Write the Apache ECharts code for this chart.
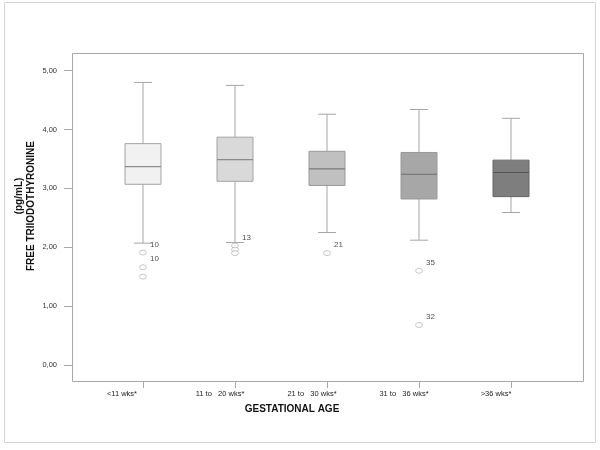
<!DOCTYPE html>
<html>
<head>
<meta charset="utf-8">
<script src="https://cdn.jsdelivr.net/npm/echarts@6/dist/echarts.min.js"></script>
<style>
  html, body { margin: 0; padding: 0; background: #fff; }
  #chart { width: 600px; height: 450px; }
</style>
</head>
<body>
<div id="chart"></div>
<script>
// gestational age groups
const categories = ['<11 wks*', '11 to   20 wks*', '21 to   30 wks*', '31 to   36 wks*', '>36 wks*'];

// box statistics (pg/mL)
const lowWhisker = [2.07, 2.08, 2.25, 2.12, 2.59];
const q1 = [3.07, 3.12, 3.05, 2.82, 2.86];
const median = [3.37, 3.49, 3.33, 3.24, 3.27];
const q3 = [3.76, 3.87, 3.63, 3.61, 3.48];
const highWhisker = [4.80, 4.75, 4.26, 4.34, 4.19];

// outliers: group index, value, case label
const outlierGroup = [0, 0, 0, 1, 1, 1, 2, 3, 3];
const outlierValue = [1.91, 1.66, 1.50, 2.03, 1.96, 1.90, 1.90, 1.60, 0.68];
const outlierLabel = ['10', '10', '', '13', '', '', '21', '35', '32'];

const yTicks = [0, 1, 2, 3, 4, 5];

// one fill per group, light to dark
const boxFill = ['#f1f1f1', '#d9d9d9', '#c0c0c0', '#a7a7a7', '#7e7e7e'];
const boxBorder = ['#a3a3a3', '#a3a3a3', '#999999', '#999999', '#666666'];
const medianColor = ['#8c8c8c', '#8c8c8c', '#7a7a7a', '#6e6e6e', '#555555'];

const boxData = categories.map((c, i) => [i, lowWhisker[i], q1[i], median[i], q3[i], highWhisker[i]]);
const outlierData = outlierValue.map((v, i) => ({
    value: [outlierGroup[i], v],
    label: { show: outlierLabel[i] !== '', formatter: outlierLabel[i] }
}));

const chart = echarts.init(document.getElementById('chart'));

const renderBox = (params, api) => {
    const i = api.value(0);
    const x = api.coord([i, 0])[0];
    const lo = api.coord([i, api.value(1)])[1];
    const b1 = api.coord([i, api.value(2)])[1];
    const md = api.coord([i, api.value(3)])[1];
    const b3 = api.coord([i, api.value(4)])[1];
    const hi = api.coord([i, api.value(5)])[1];
    const half = 18;
    const cap = 9;
    const line = { stroke: '#a5a5a5', lineWidth: 1 };
    return {
        type: 'group',
        children: [
            { type: 'line', shape: { x1: x, y1: hi, x2: x, y2: b3 }, style: line },
            { type: 'line', shape: { x1: x, y1: b1, x2: x, y2: lo }, style: line },
            { type: 'line', shape: { x1: x - cap, y1: hi, x2: x + cap, y2: hi }, style: line },
            { type: 'line', shape: { x1: x - cap, y1: lo, x2: x + cap, y2: lo }, style: line },
            {
                type: 'rect',
                shape: { x: x - half, y: b3, width: half * 2, height: b1 - b3 },
                style: { fill: boxFill[i], stroke: boxBorder[i], lineWidth: 1 }
            },
            {
                type: 'line',
                shape: { x1: x - half, y1: md, x2: x + half, y2: md },
                style: { stroke: medianColor[i], lineWidth: 1.2 }
            }
        ]
    };
};

chart.setOption({
    animation: false,
    textStyle: { fontFamily: 'Liberation Sans, Arial, sans-serif' },
    graphic: [
        {
            // outer border of the figure
            type: 'rect',
            shape: { x: 4.5, y: 2.5, width: 591, height: 440 },
            style: { fill: 'none', stroke: '#d4d4d4', lineWidth: 1 },
            silent: true
        },
        {
            // plot frame, wider than the category band
            type: 'rect',
            shape: { x: 72.5, y: 53.5, width: 511, height: 328 },
            style: { fill: 'none', stroke: '#a8a8a8', lineWidth: 1 },
            silent: true,
            z: -1
        },
        {
            type: 'text',
            x: 31, y: 206, rotation: Math.PI / 2,
            style: {
                text: 'FREE TRIIODOTHYRONINE', fill: '#111',
                font: 'bold 10px Liberation Sans', align: 'center', verticalAlign: 'middle'
            }
        },
        {
            type: 'text',
            x: 19, y: 196, rotation: Math.PI / 2,
            style: {
                text: '(pg/mL)', fill: '#111',
                font: 'bold 10px Liberation Sans', align: 'center', verticalAlign: 'middle'
            }
        },
        {
            type: 'text',
            x: 292, y: 409,
            style: {
                text: 'GESTATIONAL AGE', fill: '#111',
                font: 'bold 10px Liberation Sans', align: 'center', verticalAlign: 'middle'
            }
        }
    ],
    grid: { left: 97, top: 53, width: 460, height: 329 },
    xAxis: {
        type: 'category',
        data: categories,
        axisLine: { show: false, onZero: false },
        axisTick: { show: true, alignWithLabel: true, length: 6, lineStyle: { color: '#a8a8a8' } },
        axisLabel: {
            fontSize: 7.5, color: '#222', margin: 8, padding: [0, 30, 0, 0],
            formatter: (v, idx) => (idx === 0 ? '{a|' + v + '}' : v),
            rich: { a: { fontSize: 7.5, color: '#222', padding: [0, 12, 0, 0] } }
        },
        splitLine: { show: false }
    },
    yAxis: {
        type: 'value',
        min: -0.289,
        max: 5.30,
        offset: 25,
        axisLine: { show: false },
        axisTick: { show: true, length: 8, customValues: yTicks, lineStyle: { color: '#a8a8a8' } },
        axisLabel: {
            fontSize: 7.5, color: '#333', margin: 15, customValues: yTicks,
            formatter: v => v.toFixed(2).replace('.', ',')
        },
        splitLine: { show: false }
    },
    series: [
        {
            type: 'custom',
            renderItem: renderBox,
            encode: { x: 0, y: [1, 2, 3, 4, 5] },
            data: boxData,
            z: 2
        },
        {
            type: 'scatter',
            symbol: 'circle',
            symbolSize: [7, 5],
            itemStyle: { color: '#ffffff', borderColor: '#ababab', borderWidth: 0.8 },
            label: {
                position: 'right',
                distance: 3,
                offset: [0, -8],
                fontSize: 8,
                color: '#222'
            },
            data: outlierData,
            z: 3
        }
    ]
});
</script>
</body>
</html>
